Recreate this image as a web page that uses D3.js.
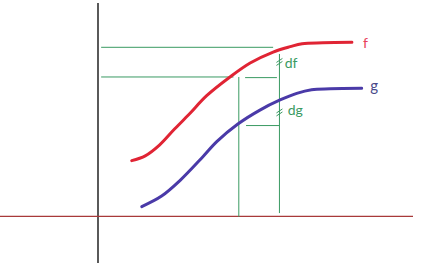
<!DOCTYPE html>
<html>
<head>
<meta charset="utf-8">
<script src="https://cdn.jsdelivr.net/npm/d3@7"></script>
<style>
  body { margin: 0; background: #fff; }
  text { font-family: Lato, "Open Sans", sans-serif; }
</style>
</head>
<body>
<div id="chart"></div>
<script>
///////////////////////////////  data  /////////////////////////////////
var fX = [10.7, 15.0, 19.5, 24.0, 29.0, 34.5, 41.9, 48.3, 55.6, 61.0, 64.8, 71.4, 80.6];
var fY = [25.3, 27.5, 32.5, 39.5, 47.0, 55.5, 64.2, 70.7, 75.8, 78.3, 79.7, 80.1, 80.3];
var gX = [13.9, 20.2, 26.0, 33.3, 37.7, 44.4, 51.4, 57.8, 63.1, 67.8, 73.7, 83.7];
var gY = [3.9, 8.8, 16.0, 27.1, 34.1, 42.3, 48.8, 53.5, 56.6, 58.3, 58.7, 58.9];

// guide positions (x at the two points, f and g levels)
var guideX = [44.7, 57.6];
var guideF = [64.2, 78.0];
var guideG = [41.6];
var labels = ["f", "g", "df", "dg"];

var width = 423, height = 263;

var svg = d3.select("#chart").append("svg")
  .attr("width", width)
  .attr("height", height);

var x = d3.scaleLinear().domain([0, 100]).range([98, 413]);
var y = d3.scaleLinear().domain([0, 100]).range([215, 0]);

var green = "#3a9a62";

//////////////////////////////  axes  ///////////////////////////////////
svg.append("line")
  .attr("x1", x(0)).attr("x2", x(0))
  .attr("y1", 3).attr("y2", height)
  .attr("stroke", "#000").attr("stroke-width", 1.3);

svg.append("line")
  .attr("x1", 0).attr("x2", x(100))
  .attr("y1", y(-0.6)).attr("y2", y(-0.6))
  .attr("stroke", "#a83a3a").attr("stroke-width", 1.2);

//////////////////////////////  guides  /////////////////////////////////
function gline(x1, y1, x2, y2) {
  svg.append("line")
    .attr("x1", x(x1)).attr("y1", y(y1))
    .attr("x2", x(x2)).attr("y2", y(y2))
    .attr("stroke", green).attr("stroke-width", 1);
}
gline(1, guideF[1], 55.6, guideF[1]);
gline(1, guideF[0], 43.0, guideF[0]);
gline(46.7, guideF[0] - 0.3, 56.8, guideF[0] - 0.3);
gline(guideX[0], guideF[0], guideX[0], -0.8);
gline(guideX[1], 74.9, guideX[1], 0.9);
gline(47.0, guideG[0], guideX[1], guideG[0]);

// little break marks on the right guide
[[guideX[1], 71.2], [guideX[1], 47.7]].forEach(function(p) {
  [-1.5, 1.5].forEach(function(o) {
    svg.append("line")
      .attr("x1", x(p[0]) - 3).attr("y1", y(p[1]) + 2 + o)
      .attr("x2", x(p[0]) + 3).attr("y2", y(p[1]) - 2 + o)
      .attr("stroke", green).attr("stroke-width", 1);
  });
});

//////////////////////////////  curves  /////////////////////////////////
var line = d3.line()
  .x(function(d) { return x(d[0]); })
  .y(function(d) { return y(d[1]); })
  .curve(d3.curveCatmullRom.alpha(0.5));

svg.append("path")
  .datum(d3.zip(fX, fY))
  .attr("d", line)
  .attr("fill", "none")
  .attr("stroke", "#e02434")
  .attr("stroke-width", 3)
  .attr("stroke-linecap", "round");

svg.append("path")
  .datum(d3.zip(gX, gY))
  .attr("d", line)
  .attr("fill", "none")
  .attr("stroke", "#4a3aa8")
  .attr("stroke-width", 3)
  .attr("stroke-linecap", "round");

//////////////////////////////  labels  /////////////////////////////////
svg.append("text").attr("x", x(84.1)).attr("y", y(77.7))
  .attr("fill", "#e8405a").attr("font-size", 14).text(labels[0]);
svg.append("text").attr("x", x(86.4)).attr("y", y(57.7))
  .attr("fill", "#4a4a8a").attr("font-size", 15).text(labels[1]);
svg.append("text").attr("x", x(59.3)).attr("y", y(68.4))
  .attr("fill", green).attr("font-size", 14).text(labels[2]);
svg.append("text").attr("x", x(60.2)).attr("y", y(46.5))
  .attr("fill", green).attr("font-size", 14).text(labels[3]);
</script>
</body>
</html>
